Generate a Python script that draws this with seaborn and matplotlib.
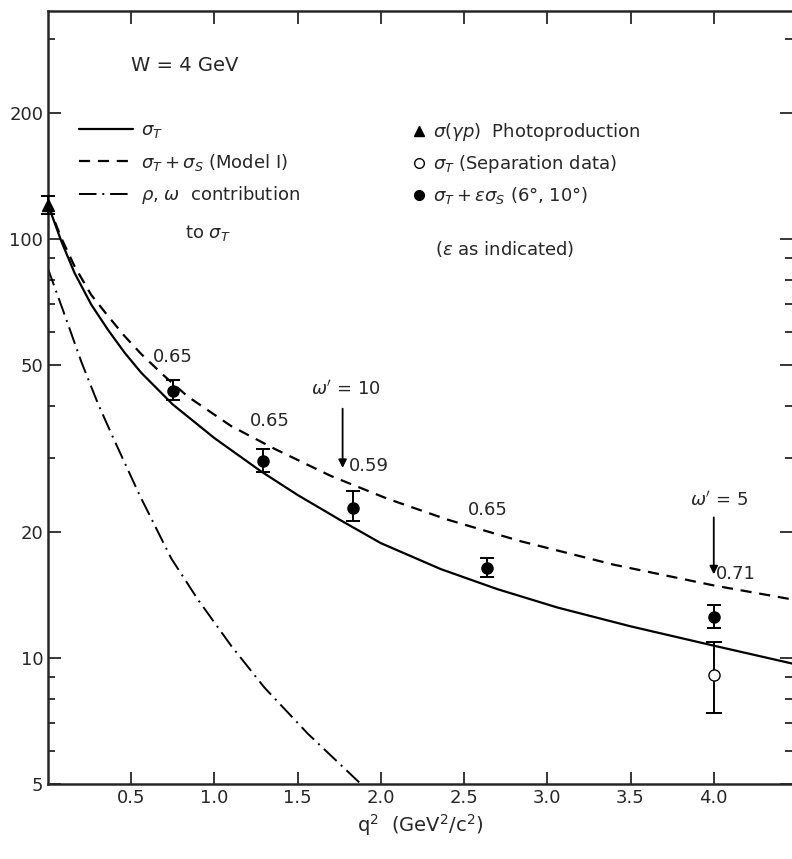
import numpy as np
import pandas as pd
import matplotlib
matplotlib.use("Agg")
import matplotlib.pyplot as plt
import seaborn as sns
from matplotlib.ticker import FixedLocator, LogLocator, NullFormatter, FixedFormatter
from matplotlib.lines import Line2D

sns.set_style("ticks")
plt.rcParams['font.family'] = ['DejaVu Sans']
plt.rcParams['mathtext.fontset'] = 'dejavusans'

# ---- data ----
q2_sigT = [0.0, 0.08, 0.16, 0.26, 0.36, 0.46, 0.56, 0.75, 1.0, 1.28, 1.5, 1.76, 2.0, 2.36, 2.7, 3.06, 3.5, 4.0, 4.47]
sigT = [121, 98.9, 83.0, 69.8, 60.8, 53.6, 48.0, 40.3, 33.5, 27.9, 24.5, 21.3, 18.8, 16.3, 14.6, 13.2, 11.9, 10.7, 9.7]

q2_model = [0.0, 0.08, 0.16, 0.26, 0.36, 0.46, 0.56, 0.7, 0.84, 1.1, 1.36, 1.7, 2.04, 2.4, 2.84, 3.4, 4.0, 4.47]
sig_model = [121, 100.7, 86.1, 73.6, 65.6, 58.7, 53.2, 47.1, 42.1, 35.8, 31.6, 27.2, 24.0, 21.4, 19.0, 16.7, 14.9, 13.8]

q2_rho = [0.0, 0.1, 0.2, 0.3, 0.4, 0.55, 0.74, 0.9, 1.1, 1.3, 1.56, 1.88]
sig_rho = [85, 66, 51, 40.5, 33, 24.5, 17.3, 13.8, 10.7, 8.5, 6.6, 5.0]

q2_data = [0.75, 1.29, 1.83, 2.64, 4.0]
sig_data = [43.5, 29.6, 22.8, 16.4, 12.5]
err_lo = [41.2, 27.8, 21.2, 15.6, 11.8]
err_hi = [46.0, 31.6, 25.0, 17.3, 13.4]
eps_labels = ["0.65", "0.65", "0.59", "0.65", "0.71"]

q2_sep = [4.0]
sig_sep = [9.1]
sep_lo = [7.4]
sep_hi = [10.9]

q2_photo = [0.0]
sig_photo = [121]
photo_lo = [115]
photo_hi = [127]

xticks = [0.5, 1.0, 1.5, 2.0, 2.5, 3.0, 3.5, 4.0]
xticklabels = ["0.5", "1.0", "1.5", "2.0", "2.5", "3.0", "3.5", "4.0"]
yticks = [5, 10, 20, 50, 100, 200]
yticklabels = ["5", "10", "20", "50", "100", "200"]

# ---- figure ----
fig = plt.figure(figsize=(7.92, 8.59), dpi=100)
ax = fig.add_axes([0.0606, 0.0873, 0.9394, 0.9])

lw = 1.6
dash = (0, (5, 3.5))
dashdot = (0, (9, 3, 1, 3))
sns.lineplot(x=q2_sigT, y=sigT, ax=ax, color='black', lw=lw, sort=False)
sns.lineplot(x=q2_model, y=sig_model, ax=ax, color='black', lw=lw, linestyle=dash, sort=False)
sns.lineplot(x=q2_rho, y=sig_rho, ax=ax, color='black', lw=1.4, linestyle=dashdot, sort=False)

def yerr(v, lo, hi):
    v = np.asarray(v); return [v - np.asarray(lo), np.asarray(hi) - v]

ax.errorbar(q2_data, sig_data, yerr=yerr(sig_data, err_lo, err_hi), fmt='o', color='black',
            ms=8, capsize=5, elinewidth=1.4, capthick=1.4, zorder=5)
ax.errorbar(q2_sep, sig_sep, yerr=yerr(sig_sep, sep_lo, sep_hi), fmt='o', color='black',
            mfc='white', ms=8, capsize=6, elinewidth=1.4, capthick=1.4, zorder=5)
ax.errorbar(q2_photo, sig_photo, yerr=yerr(sig_photo, photo_lo, photo_hi), fmt='^', color='black',
            ms=8, capsize=5, elinewidth=1.4, capthick=1.4, zorder=6, clip_on=False)

ax.set_yscale('log')
ax.set_xlim(0, 4.47)
ax.set_ylim(5, 351)

ax.xaxis.set_major_locator(FixedLocator(xticks))
ax.xaxis.set_major_formatter(FixedFormatter(xticklabels))
ax.yaxis.set_major_locator(FixedLocator(yticks))
ax.yaxis.set_major_formatter(FixedFormatter(yticklabels))
ax.yaxis.set_minor_locator(LogLocator(base=10, subs=np.arange(2, 10)))
ax.yaxis.set_minor_formatter(NullFormatter())

ax.tick_params(which='both', direction='in', top=True, right=True, labelsize=13, width=1.3)
ax.tick_params(which='major', length=9)
ax.tick_params(which='minor', length=5)
for s in ['left', 'bottom', 'top']:
    ax.spines[s].set_linewidth(1.8)
ax.spines['right'].set_visible(False)

ax.set_xlabel(r"q$^2$  (GeV$^2$/c$^2$)", fontsize=14, labelpad=4)
ax.set_ylabel("")

# annotations
ax.text(0.82, 260, "W = 4 GeV", fontsize=14, ha='center', va='center')
label_pos = [(0.75, 52.4), (1.33, 36.9), (1.93, 28.7), (2.64, 22.5), (4.13, 15.9)]
for (x, y), t in zip(label_pos, eps_labels):
    ax.text(x, y, t, fontsize=13, ha='center', va='center')
ax.text(1.79, 43.9, r"$\omega'$ = 10", fontsize=13, ha='center', va='center')
ax.annotate('', xy=(1.77, 28.0), xytext=(1.77, 40.0),
            arrowprops=dict(arrowstyle='-|>', color='black', lw=1.3, mutation_scale=12))
ax.text(4.03, 23.8, r"$\omega'$ = 5", fontsize=13, ha='center', va='center')
ax.annotate('', xy=(4.0, 15.6), xytext=(4.0, 22.0),
            arrowprops=dict(arrowstyle='-|>', color='black', lw=1.3, mutation_scale=12))

# left legend (curves)
h1 = [Line2D([], [], color='black', lw=lw),
      Line2D([], [], color='black', lw=lw, linestyle=dash),
      Line2D([], [], color='black', lw=1.4, linestyle=dashdot)]
l1 = [r"$\sigma_T$", r"$\sigma_T + \sigma_S$ (Model I)",
      "$\\rho$, $\\omega$  contribution"]
leg1 = ax.legend(h1, l1, loc='upper left', bbox_to_anchor=(0.025, 0.874), frameon=False,
                 fontsize=13, handlelength=3.0, handletextpad=0.4, labelspacing=0.65,
                 borderpad=0.2)
ax.add_artist(leg1)
ax.text(0.184, 0.713, r"to $\sigma_T$", transform=ax.transAxes, fontsize=13,
        ha='left', va='center')

# right legend (data symbols)
h2 = [Line2D([], [], marker='^', color='black', ms=7, ls='none'),
      Line2D([], [], marker='o', color='black', mfc='white', ms=7, ls='none'),
      Line2D([], [], marker='o', color='black', ms=7, ls='none')]
l2 = [r"$\sigma(\gamma p)$  Photoproduction", r"$\sigma_T$ (Separation data)",
      r"$\sigma_T + \epsilon\sigma_S$ (6°, 10°)"]
leg2 = ax.legend(h2, l2, loc='upper left', bbox_to_anchor=(0.472, 0.874), frameon=False,
                 fontsize=13, handlelength=0.8, handletextpad=0.4, labelspacing=0.55,
                 borderpad=0.2)
ax.text(0.52, 0.692, r"($\epsilon$ as indicated)", transform=ax.transAxes, fontsize=13,
        ha='left', va='center')

fig.savefig("out.png", dpi=100)
